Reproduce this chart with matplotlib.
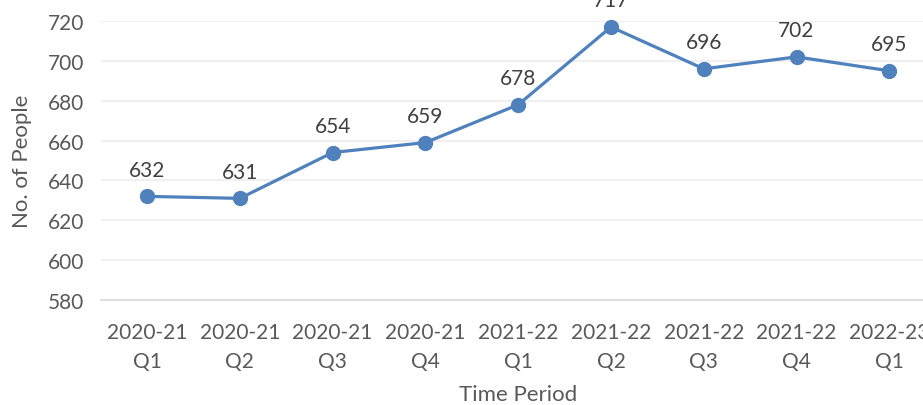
import matplotlib.pyplot as plt
import numpy as np

# Data
periods = ["2020-21\nQ1", "2020-21\nQ2", "2020-21\nQ3", "2020-21\nQ4",
           "2021-22\nQ1", "2021-22\nQ2", "2021-22\nQ3", "2021-22\nQ4",
           "2022-23\nQ1"]
people = [632, 631, 654, 659, 678, 717, 696, 702, 695]
y_ticks = [580, 600, 620, 640, 660, 680, 700, 720]

plt.rcParams['font.family'] = ['Lato', 'DejaVu Sans']

line_color = "#4F81BD"
text_color = "#595959"

fig = plt.figure(figsize=(9.23, 4.06), dpi=100)
# plot area runs past the right edge (the reference is cropped)
ax = fig.add_axes([100.7 / 923, 105 / 406, 835 / 923, 279 / 406])

x = np.arange(len(people))
ax.plot(x, people, color=line_color, lw=2.3, marker="o", ms=10,
        clip_on=False, zorder=3)

for xi, v in zip(x, people):
    ax.annotate(str(v), (xi, v), xytext=(0, 12), textcoords="offset points",
                ha="center", va="bottom", fontsize=15, color="#404040",
                annotation_clip=False)

ax.set_xlim(-0.5, len(people) - 0.5)
ax.set_ylim(580, 720)
ax.set_yticks(y_ticks)
ax.set_xticks(x)
ax.set_xticklabels(periods, linespacing=1.55)

ax.grid(axis="y", color="#EDEDED", lw=1.2)
ax.set_axisbelow(True)
for s in ["top", "right", "left"]:
    ax.spines[s].set_visible(False)
ax.spines["bottom"].set_color("#D9D9D9")
ax.spines["bottom"].set_linewidth(1.2)

ax.tick_params(axis="both", length=0, labelsize=15, colors=text_color)
ax.tick_params(axis="x", pad=16)
ax.tick_params(axis="y", pad=12)

ax.set_xlabel("Time Period", fontsize=16, color=text_color, labelpad=9)
ax.set_ylabel("No. of People", fontsize=16, color=text_color, labelpad=11)

fig.savefig("out.png", dpi=100)
